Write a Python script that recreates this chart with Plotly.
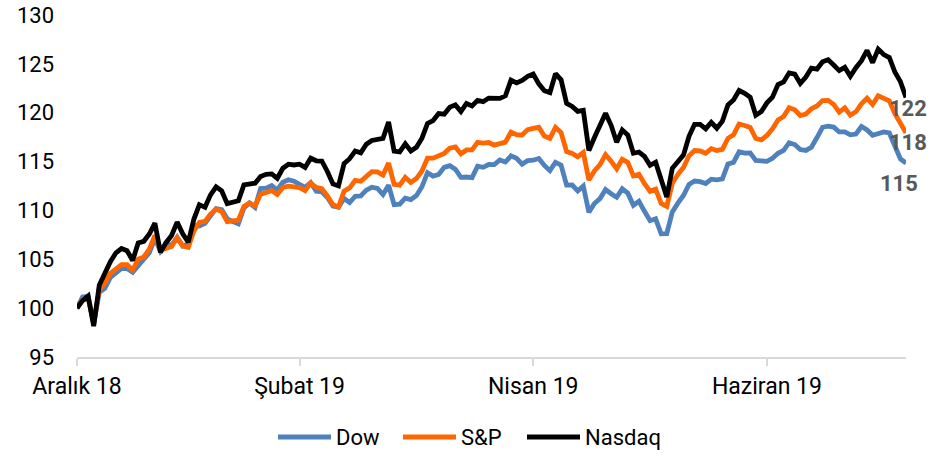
import plotly.graph_objects as go

# Endeksler, 28.12.2018 = 100 (işlem günleri)
dow = [
    100.00, 101.15, 101.23, 98.37, 101.61, 102.03, 103.14, 103.54, 104.07, 104.05,
    103.67, 104.35, 104.96, 105.67, 107.13, 105.82, 106.56, 106.46, 107.26, 106.36,
    106.58, 108.47, 108.40, 108.68, 109.44, 110.19, 110.09, 109.14, 108.86, 108.63,
    110.25, 110.76, 110.31, 112.23, 112.27, 112.54, 112.09, 112.88, 113.14, 112.99,
    112.67, 112.37, 112.85, 111.96, 111.90, 111.32, 110.45, 110.35, 111.22, 110.81,
    111.45, 111.48, 112.08, 112.37, 112.25, 111.63, 112.58, 110.58, 110.64, 111.25,
    111.11, 111.51, 112.43, 113.86, 113.51, 113.68, 114.41, 114.58, 114.22, 113.39,
    113.42, 113.36, 114.53, 114.41, 114.70, 114.69, 115.16, 114.95, 115.58, 115.33,
    114.74, 115.09, 115.14, 115.31, 114.60, 114.07, 114.93, 114.64, 112.59, 112.60,
    111.99, 112.49, 109.81, 110.71, 111.21, 112.14, 111.71, 111.35, 112.21, 111.77,
    110.53, 110.94, 109.91, 108.95, 109.14, 107.60, 107.62, 109.84, 110.74, 111.53,
    112.67, 113.01, 112.95, 112.76, 113.20, 113.13, 113.23, 114.76, 114.92, 116.00,
    115.86, 115.89, 115.11, 115.07, 115.02, 115.34, 115.85, 116.15, 116.93, 116.74,
    116.23, 116.14, 116.47, 117.46, 118.51, 118.63, 118.53, 118.03, 118.04, 117.74,
    117.82, 118.59, 118.24, 117.69, 117.91, 118.03, 117.93, 116.49, 115.27, 114.84,
]

sp = [
    100.00, 100.85, 100.98, 98.48, 101.86, 102.57, 103.57, 103.99, 104.46, 104.45,
    103.90, 105.01, 105.24, 106.04, 107.44, 105.92, 106.15, 106.30, 107.20, 106.36,
    106.21, 107.86, 108.78, 108.88, 109.62, 110.14, 109.89, 108.86, 108.94, 109.01,
    110.42, 110.75, 110.46, 111.66, 111.83, 112.03, 111.63, 112.35, 112.49, 112.40,
    112.34, 112.02, 112.79, 112.35, 112.23, 111.49, 110.59, 110.35, 111.97, 112.30,
    113.08, 112.98, 113.55, 113.97, 113.95, 113.62, 114.85, 112.67, 112.58, 113.39,
    112.86, 113.26, 114.03, 115.35, 115.35, 115.60, 115.84, 116.37, 116.50, 115.79,
    116.19, 116.20, 116.96, 116.89, 116.95, 116.68, 116.87, 116.99, 118.02, 117.76,
    117.72, 118.27, 118.40, 118.51, 117.62, 117.37, 118.50, 117.97, 116.02, 115.84,
    115.49, 115.92, 113.12, 114.03, 114.69, 115.71, 115.04, 114.26, 115.23, 114.91,
    113.54, 113.69, 112.74, 111.96, 112.19, 110.71, 110.41, 112.77, 113.69, 114.39,
    115.59, 116.13, 116.09, 115.85, 116.33, 116.14, 116.25, 117.38, 117.73, 118.85,
    118.70, 118.49, 117.36, 117.22, 117.67, 118.35, 119.25, 119.60, 120.52, 120.30,
    119.72, 119.87, 120.41, 120.69, 121.24, 121.26, 120.85, 120.06, 120.49, 119.75,
    120.09, 120.91, 121.48, 120.84, 121.73, 121.53, 121.22, 119.90, 118.82, 117.95,
]

nasdaq = [
    100.00, 100.77, 101.24, 98.16, 102.34, 103.63, 104.75, 105.66, 106.10, 105.88,
    104.88, 106.67, 106.84, 107.59, 108.70, 105.71, 106.70, 107.43, 108.81, 107.61,
    106.74, 109.09, 110.59, 110.32, 111.59, 112.42, 112.01, 110.69, 110.84, 110.99,
    112.61, 112.69, 112.79, 113.48, 113.70, 113.74, 113.29, 114.32, 114.73, 114.65,
    114.73, 114.40, 115.35, 115.08, 115.06, 113.99, 112.71, 112.51, 114.79, 115.29,
    116.08, 115.89, 116.77, 117.16, 117.30, 117.38, 119.05, 116.07, 115.99, 116.81,
    116.08, 116.47, 117.39, 118.90, 119.20, 119.91, 119.85, 120.57, 120.80, 120.12,
    120.95, 120.70, 121.26, 121.13, 121.50, 121.44, 121.47, 121.73, 123.33, 123.05,
    123.30, 123.72, 123.96, 122.95, 122.25, 122.06, 123.99, 123.37, 120.95, 120.64,
    120.14, 120.24, 116.14, 117.46, 118.80, 119.95, 118.71, 116.98, 118.24, 117.71,
    115.85, 115.98, 115.53, 114.62, 114.93, 113.19, 111.37, 114.32, 115.05, 115.66,
    117.58, 118.81, 118.80, 118.35, 119.02, 118.41, 119.14, 120.80, 121.30, 122.28,
    121.98, 121.58, 119.75, 120.13, 121.01, 121.59, 122.88, 123.15, 124.08, 123.95,
    122.99, 123.65, 124.57, 124.47, 125.21, 125.42, 124.88, 124.31, 124.64, 123.72,
    124.60, 125.32, 126.38, 125.12, 126.51, 125.95, 125.65, 124.16, 123.18, 121.56,
]

tick_pos = [0, 40, 82, 124]
tick_text = ["Aralık 18", "Şubat 19", "Nisan 19", "Haziran 19"]

days = list(range(len(dow)))

FONT = "Roboto, sans-serif"

# çizim alanı (piksel)
PLOT_L, PLOT_R, PLOT_T, PLOT_B = 77, 906, 15, 357


def paper_x(px):
    return (px - PLOT_L) / (PLOT_R - PLOT_L)


def paper_y(py):
    return (PLOT_B - py) / (PLOT_B - PLOT_T)


# isim, veri, renk, etiket kaydırma x/y, lejant çizgisi başlangıcı (px)
series = [
    ("Dow", dow, "#4F81BD", -7, -20, 278),
    ("S&P", sp, "#FF6600", 2, -10, 403),
    ("Nasdaq", nasdaq, "#000000", 2, -11, 527),
]

fig = go.Figure()

for name, vals, color, dx, dy, lx in series:
    fig.add_trace(
        go.Scatter(
            x=days,
            y=vals,
            name=name,
            mode="lines",
            line=dict(color=color, width=4.8),
            showlegend=False,
        )
    )
    # son değer etiketi
    fig.add_annotation(
        x=days[-1],
        y=vals[-1],
        text="<b>%d</b>" % round(vals[-1]),
        showarrow=False,
        xanchor="center",
        yanchor="middle",
        xshift=dx,
        yshift=dy,
        font=dict(family=FONT, size=22, color="#595959"),
    )
    # lejant
    fig.add_shape(
        type="line",
        xref="paper", yref="paper",
        x0=paper_x(lx), x1=paper_x(lx + 53),
        y0=paper_y(437), y1=paper_y(437),
        line=dict(color=color, width=5),
    )
    fig.add_annotation(
        xref="paper", yref="paper",
        x=paper_x(lx + 56),
        y=paper_y(437),
        text=name,
        showarrow=False,
        xanchor="left",
        yanchor="middle",
        font=dict(family=FONT, size=22, color="#000000"),
    )

fig.update_layout(
    width=946,
    height=457,
    margin=dict(l=PLOT_L, r=946 - PLOT_R, t=PLOT_T, b=457 - PLOT_B, autoexpand=False),
    plot_bgcolor="white",
    paper_bgcolor="white",
    font=dict(family=FONT, size=22, color="#000000"),
    showlegend=False,
    xaxis=dict(
        range=[0, len(dow) - 1],
        tickvals=tick_pos,
        ticktext=tick_text,
        tickfont=dict(size=23),
        showgrid=False,
        zeroline=False,
        showline=True,
        linecolor="#d9d9d9",
        linewidth=2,
        ticks="outside",
        tickcolor="#d9d9d9",
        tickwidth=2,
        ticklen=7,
        automargin=False,
    ),
    yaxis=dict(
        range=[95, 130],
        dtick=5,
        showgrid=False,
        zeroline=False,
        showline=False,
        ticks="",
        ticklabelstandoff=22,
        automargin=False,
    ),
)

# sayfa kenar boşluğunu kaldır
fig.write_html(
    "out.html",
    config={"displayModeBar": False},
    post_script="document.body.style.margin='0px';",
)
